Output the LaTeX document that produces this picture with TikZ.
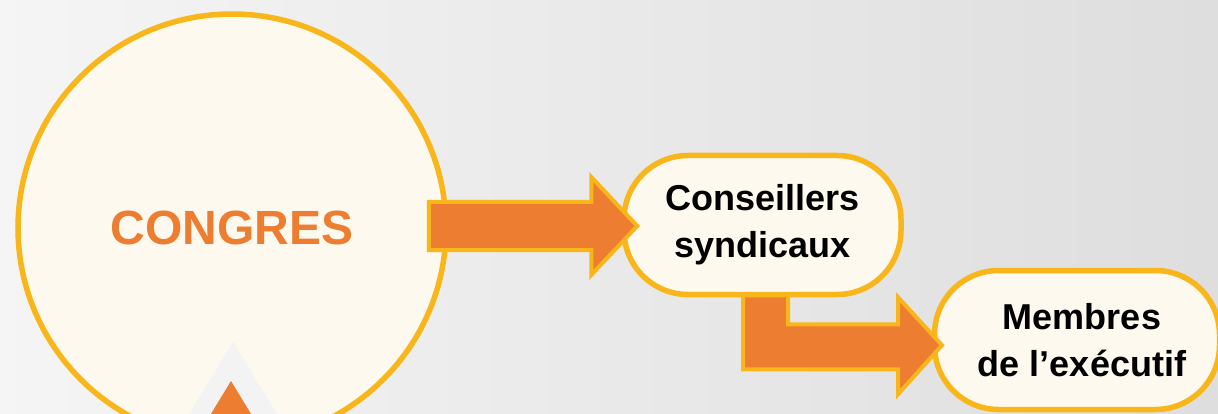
\documentclass[tikz,border=0pt]{standalone}
\usepackage{fontspec}
\setmainfont{Liberation Sans}
\usepackage{xcolor}
\usetikzlibrary{calc}
\usetikzlibrary{positioning}

\definecolor{orangefill}{HTML}{ED7D31}
\definecolor{goldline}{HTML}{F8B61B}
\definecolor{creamfill}{HTML}{FDF9EE}
\definecolor{triagray}{HTML}{F3F3F3}

\tikzset{
	bubble/.style={draw=goldline,fill=creamfill,line width=5.5pt,align=center,inner sep=0pt,
		rounded corners=64pt,minimum height=139pt,
		font=\bfseries\fontsize{36}{47}\selectfont},
	blockarrow/.style={fill=orangefill,draw=goldline,line width=4pt,line join=miter}
}

\begin{document}
\begin{tikzpicture}[x=1pt,y=-1pt]
		\useasboundingbox (0,0) rectangle (1218,414);
		\clip (0,0) rectangle (1218,414);
		\shade[left color=black!4,middle color=white,right color=black!13] (0,0) rectangle (1218,414);

		\node[circle,draw=goldline,fill=creamfill,line width=5.5pt,minimum size=428pt,inner sep=0pt,
			text=orangefill,font=\bfseries\fontsize{48}{56}\selectfont] (congres) at (232,228) {CONGRES};
		\fill[triagray] (233,342) -- (167,450) -- (299,450) -- cycle;
		\fill[orangefill] (231,381) -- (189,450) -- (273,450) -- cycle;

		\node[bubble,minimum width=277pt] (conseillers) at (762.5,225) {Conseillers\\syndicaux};
		\node[bubble,minimum width=285pt] (membres) at (1077,340) {\hspace*{10pt}Membres\\\hspace*{10pt}de l’exécutif};

		\coordinate (a1s) at ($(congres.east)+(-20,-2)$);
		\coordinate (a1e) at ($(conseillers.west)+(16,1)$);
		\draw[blockarrow] ($(a1s)+(0,-24)$) -- ($(a1e)+(-46,-24)$) -- ($(a1e)+(-46,-49)$) -- (a1e)
			-- ($(a1e)+(-46,49)$) -- ($(a1e)+(-46,24)$) -- ($(a1s)+(0,24)$) -- cycle;

		\coordinate (b1s) at ($(conseillers.south)+(3,-2)$);
		\draw[blockarrow] ($(b1s)+(-22.5,0)$) -- ++(45,0) -- ++(0,29) -- ++(110,0) -- ++(0,-27)
			-- ++(44,48) coordinate (b1e) -- ++(-44,49) -- ++(0,-25) -- ++(-155,0) -- cycle;
	\end{tikzpicture}
\end{document}
